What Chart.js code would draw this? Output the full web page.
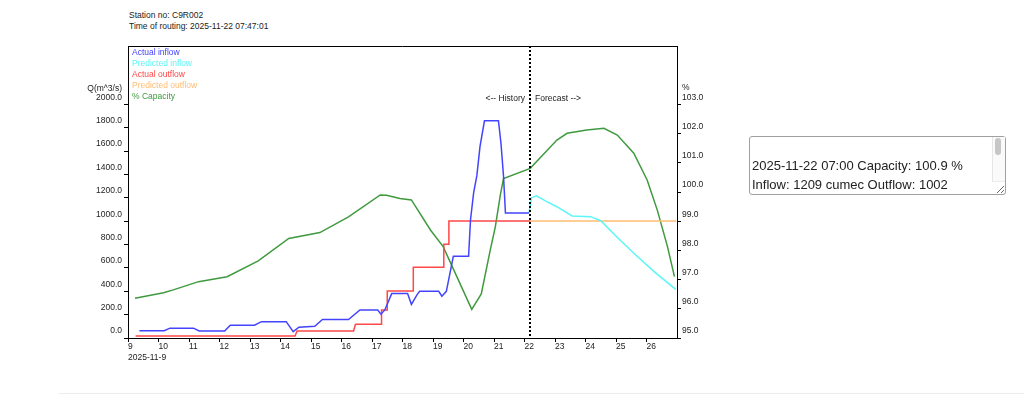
<!DOCTYPE html>
<html>
<head>
<meta charset="utf-8">
<script src="https://cdn.jsdelivr.net/npm/chart.js@4.4.1/dist/chart.umd.min.js"></script>
<style>
html,body{margin:0;padding:0;background:#fff;width:1024px;height:398px;overflow:hidden;font-family:'Liberation Sans',Arial,sans-serif;}
#hdr{position:absolute;left:129px;top:10px;font-size:8.5px;line-height:11px;color:#222;white-space:nowrap;}
#wrap{position:absolute;left:0;top:0;width:760px;height:380px;}
#info{position:absolute;left:749px;top:136px;width:257px;height:59px;box-sizing:border-box;border:1px solid #a0a0a0;border-radius:3px;padding:0 14px 0 2px;margin:0;font-family:'Liberation Sans',Arial,sans-serif;font-size:13px;line-height:19px;color:#222;overflow:hidden;resize:both;background:#fff;}
#track{position:absolute;left:992px;top:137px;width:12px;height:44px;background:#fafafa;border-left:1px solid #e6e6e6;border-bottom:1px solid #ececec;pointer-events:none;}
#thumb{position:absolute;left:995px;top:138px;width:6px;height:17px;background:#c6c6c6;border-radius:3px;pointer-events:none;}
#rule{position:absolute;left:59px;top:393px;width:965px;height:1px;background:#ececec;}
</style>
</head>
<body>
<div id="hdr">Station no: C9R002<br>Time of routing: 2025-11-22 07:47:01</div>
<div id="wrap"><canvas id="c" width="760" height="380"></canvas></div>
<textarea id="info" readonly></textarea>
<div id="track"></div>
<div id="thumb"></div>
<div id="rule"></div>
<script>
// ---- data ----
const startDate = '2025-11-09 00:00';
const endDate = '2025-11-27 00:00';
const forecastStart = '2025-11-22 04:30';

const inflowTimes = ['2025-11-09 09:00','2025-11-10 04:30','2025-11-10 09:00','2025-11-11 03:30','2025-11-11 08:00','2025-11-12 04:00','2025-11-12 08:30','2025-11-13 03:30','2025-11-13 09:00','2025-11-14 04:30','2025-11-14 10:00','2025-11-14 14:30','2025-11-15 03:00','2025-11-15 09:00','2025-11-16 05:30','2025-11-16 14:30','2025-11-17 04:30','2025-11-17 07:00','2025-11-17 10:00','2025-11-17 15:30','2025-11-18 04:00','2025-11-18 07:00','2025-11-18 11:30','2025-11-18 13:30','2025-11-19 04:30','2025-11-19 07:00','2025-11-19 10:30','2025-11-19 16:00','2025-11-20 04:00','2025-11-20 05:30','2025-11-20 08:00','2025-11-20 10:30','2025-11-20 13:00','2025-11-20 16:30','2025-11-21 03:30','2025-11-21 05:30','2025-11-21 07:30','2025-11-21 09:00','2025-11-22 03:30'];
const inflowValues = [62,62,84,84,60,60,110,110,140,140,55,92,100,158,158,240,240,204,238,380,380,288,372,400,400,358,400,700,700,1010,1245,1390,1640,1860,1860,1665,1385,1070,1070];

const predInflowTimes = ['2025-11-22 03:30','2025-11-22 05:30','2025-11-22 09:30','2025-11-22 17:30','2025-11-23 01:30','2025-11-23 13:30','2025-11-24 04:00','2025-11-24 12:00','2025-11-25 00:30','2025-11-25 14:00','2025-11-26 06:00','2025-11-26 23:00'];
const predInflowValues = [1070,1200,1218,1167,1124,1045,1039,1004,867,725,568,417];

const outflowTimes = ['2025-11-09 06:00','2025-11-14 11:30','2025-11-14 13:00','2025-11-16 09:30','2025-11-16 11:00','2025-11-17 07:30','2025-11-17 07:30','2025-11-17 12:00','2025-11-17 12:00','2025-11-18 08:30','2025-11-18 08:30','2025-11-19 08:30','2025-11-19 08:30','2025-11-19 12:30','2025-11-19 12:30','2025-11-22 04:30'];
const outflowValues = [17,17,60,60,117,117,240,240,402,402,605,605,802,802,1002,1002];

const predOutflowTimes = ['2025-11-22 04:30','2025-11-26 23:30'];
const predOutflowValues = [1002,1002];

const capTimes = ['2025-11-09 05:30','2025-11-10 04:00','2025-11-10 11:00','2025-11-11 07:30','2025-11-12 06:00','2025-11-13 06:30','2025-11-14 06:30','2025-11-15 07:00','2025-11-16 05:30','2025-11-17 06:30','2025-11-17 11:30','2025-11-17 22:00','2025-11-18 07:00','2025-11-18 22:00','2025-11-19 08:00','2025-11-20 06:30','2025-11-20 14:00','2025-11-20 21:00','2025-11-21 01:00','2025-11-21 05:00','2025-11-21 07:30','2025-11-22 04:30','2025-11-23 01:30','2025-11-23 09:30','2025-11-24 01:00','2025-11-24 14:30','2025-11-25 01:00','2025-11-25 14:00','2025-11-26 00:30','2025-11-26 08:30','2025-11-26 16:30','2025-11-26 22:00'];
const capValues = [96.36,96.55,96.64,96.93,97.10,97.64,98.41,98.61,99.15,99.90,99.89,99.78,99.73,98.70,98.13,95.98,96.51,98.0,98.8,99.9,100.46,100.81,101.78,102.01,102.12,102.18,101.95,101.33,100.41,99.38,98.13,97.10];

const seriesNames = ['Actual inflow','Predicted inflow','Actual outflow','Predicted outflow','% Capacity'];
const seriesColors = ['#4444ff','#5cf6f6','#ff4848','#ffbd73','#3f9a3f'];
const qTicksMax = 2000;
const pTicksMax = 103;
const infoLines = ['', '2025-11-22 07:00 Capacity: 100.9 %', 'Inflow: 1209 cumec Outflow: 1002'];

// ---- helpers ----
function toDay(s){
  const [d,t] = s.split(' ');
  const [Y,M,D] = d.split('-').map(Number);
  const [h,m] = t.split(':').map(Number);
  const [Y0,M0,D0] = startDate.split(' ')[0].split('-').map(Number);
  return (Date.UTC(Y,M-1,D,h,m) - Date.UTC(Y0,M0-1,D0)) / 86400000;
}
function pts(times, vals){ return times.map((t,i)=>({x:toDay(t), y:vals[i]})); }
const startDay = Number(startDate.split(' ')[0].split('-')[2]);
const FONT = "'Liberation Sans', Arial, sans-serif";

document.getElementById('info').value = infoLines.join('\n');

const overlay = {
  id:'overlay',
  afterDraw(chart){
    const {ctx, chartArea:a, scales} = chart;
    ctx.save();
    // top border
    ctx.strokeStyle = '#000'; ctx.lineWidth = 1;
    ctx.beginPath(); ctx.moveTo(a.left, a.top+0.5); ctx.lineTo(a.right, a.top+0.5); ctx.stroke();
    // now line
    const nx = Math.round(scales.x.getPixelForValue(toDay(forecastStart)));
    ctx.setLineDash([2,2]); ctx.lineWidth = 2;
    ctx.beginPath(); ctx.moveTo(nx, a.top); ctx.lineTo(nx, a.bottom); ctx.stroke();
    ctx.setLineDash([]);
    ctx.font = '8.5px ' + FONT;
    ctx.textBaseline = 'middle';
    // legend
    ctx.textAlign = 'left';
    seriesNames.forEach((n,i)=>{ ctx.fillStyle = seriesColors[i]; ctx.fillText(n, a.left+4, a.top+7 + i*11); });
    // axis captions
    ctx.fillStyle = '#222';
    ctx.textAlign = 'right'; ctx.fillText('Q(m^3/s)', a.left-6, 89);
    ctx.textAlign = 'left'; ctx.fillText('%', a.right+5, 88);
    // history / forecast
    ctx.textAlign = 'right'; ctx.fillText('<-- History', nx-5, 99);
    ctx.textAlign = 'left'; ctx.fillText('Forecast -->', nx+5, 99);
    ctx.restore();
  }
};

const common = {pointRadius:0, borderWidth:1.5, tension:0, fill:false};
new Chart(document.getElementById('c'), {
  type:'line',
  data:{datasets:[
    {...common, label:seriesNames[0], data:pts(inflowTimes,inflowValues), borderColor:seriesColors[0], yAxisID:'yQ'},
    {...common, label:seriesNames[1], data:pts(predInflowTimes,predInflowValues), borderColor:seriesColors[1], yAxisID:'yQ'},
    {...common, label:seriesNames[2], data:pts(outflowTimes,outflowValues), borderColor:seriesColors[2], yAxisID:'yQ'},
    {...common, label:seriesNames[3], data:pts(predOutflowTimes,predOutflowValues), borderColor:seriesColors[3], yAxisID:'yQ'},
    {...common, label:seriesNames[4], data:pts(capTimes,capValues), borderColor:seriesColors[4], yAxisID:'yP'}
  ]},
  options:{
    responsive:false, animation:false, events:[],
    layout:{padding:{top:46,left:0,right:0,bottom:0}},
    font:{family:FONT,size:8.5},
    plugins:{legend:{display:false}, tooltip:{enabled:false}},
    scales:{
      x:{type:'linear', position:'bottom', min:0, max:toDay(endDate),
        afterBuildTicks:s=>{ s.ticks = s.ticks.filter(t=>t.value < toDay(endDate)); },
        afterFit:s=>{ s.height = 42; },
        ticks:{stepSize:1, autoSkip:false, maxRotation:0, align:'start', padding:0, color:'#222', font:{family:FONT,size:8.5},
          callback:v=> v===0 ? [String(startDay), '2025-11-9'] : String(startDay+v)},
        grid:{drawOnChartArea:false, tickLength:4, color:'#000'},
        border:{color:'#000', width:1}
      },
      yQ:{type:'linear', position:'left', min:0, max:2500,
        afterBuildTicks:s=>{ s.ticks = s.ticks.filter(t=>t.value <= qTicksMax); },
        afterFit:s=>{ s.width = 128; },
        ticks:{stepSize:200, labelOffset:-7, padding:2, color:'#222', font:{family:FONT,size:8.5}, callback:v=>Number(v).toFixed(1)},
        grid:{drawOnChartArea:false, tickLength:4, color:'#000'},
        border:{color:'#000', width:1}
      },
      yP:{type:'linear', position:'right', min:95, max:105,
        afterBuildTicks:s=>{ s.ticks = s.ticks.filter(t=>t.value <= pTicksMax); },
        afterFit:s=>{ s.width = 83; },
        ticks:{stepSize:1, labelOffset:-7, padding:1, color:'#222', font:{family:FONT,size:8.5}, callback:v=>Number(v).toFixed(1)},
        grid:{drawOnChartArea:false, tickLength:4, color:'#000'},
        border:{color:'#000', width:1}
      }
    }
  },
  plugins:[overlay]
});
</script>
</body>
</html>
